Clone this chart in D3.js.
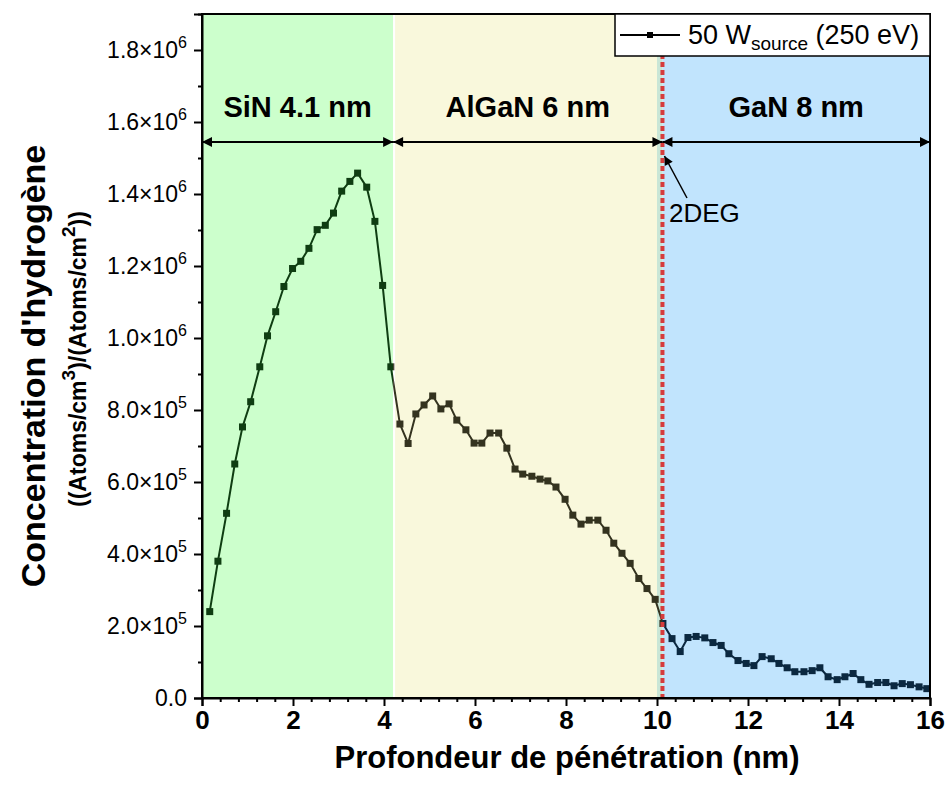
<!DOCTYPE html>
<html><head><meta charset="utf-8">
<script src="https://cdn.jsdelivr.net/npm/d3@7"></script>
<style>
html,body{margin:0;padding:0;background:#fff;}
svg{display:block;font-family:"Liberation Sans",Arial,sans-serif;}
</style></head>
<body>
<svg id="chart" width="949" height="796"></svg>
<script>
// ---- data ----
const depth = [0.17,0.35,0.54,0.72,0.89,1.07,1.27,1.44,1.62,1.80,1.99,2.17,2.35,2.53,2.71,2.89,3.07,3.25,3.42,3.62,3.80,3.97,4.15,4.35,4.53,
4.70,4.88,5.07,5.25,5.43,5.60,5.80,5.98,6.15,6.33,6.52,6.70,6.88,7.05,7.25,7.43,7.60,7.78,7.98,8.15,8.33,8.51,8.70,8.88,9.05,9.23,9.41,9.60,9.78,9.96,10.13,10.33,
10.51,10.68,10.86,11.05,11.23,11.41,11.58,11.78,11.96,12.13,12.31,12.51,12.68,12.86,13.03,13.23,13.41,13.58,13.76,13.96,14.13,14.31,14.48,14.66,14.85,15.03,15.21,15.39,15.57,15.76,15.93];
const concentration = [2.40e5,3.80e5,5.13e5,6.50e5,7.53e5,8.23e5,9.20e5,1.006e6,1.073e6,1.143e6,1.193e6,1.213e6,1.249e6,1.301e6,1.313e6,1.347e6,1.408e6,1.435e6,1.458e6,1.419e6,1.324e6,1.146e6,9.20e5,7.61e5,7.07e5,
7.89e5,8.14e5,8.39e5,8.03e5,8.17e5,7.72e5,7.45e5,7.08e5,7.08e5,7.36e5,7.36e5,6.94e5,6.36e5,6.22e5,6.16e5,6.08e5,6.03e5,5.86e5,5.52e5,5.08e5,4.83e5,4.94e5,4.94e5,4.66e5,4.30e5,4.02e5,3.74e5,3.32e5,3.04e5,2.74e5,2.07e5,1.65e5,
1.29e5,1.68e5,1.71e5,1.67e5,1.54e5,1.46e5,1.23e5,1.04e5,9.6e4,9.0e4,1.15e5,1.09e5,9.6e4,8.4e4,7.3e4,7.3e4,7.6e4,8.4e4,5.9e4,5.1e4,5.9e4,6.8e4,5.1e4,3.8e4,4.3e4,4.3e4,3.4e4,4.0e4,3.7e4,3.1e4,2.6e4];
const seriesName = "50 W";
const seriesSub = "source";
const seriesSuffix = " (250 eV)";
const layerNames = ["SiN 4.1 nm","AlGaN 6 nm","GaN 8 nm"];
const layerStart = [0, 4.2, 10.12];
const layerEnd = [4.2, 10.12, 16];
const layerFill = ["#ccffcc","#f9f8dc","#c1e4fd"];
const layerInk = ["#0f3d12","#34331f","#0b2840"];
const interfaceX = 10.12;
const interfaceLabel = "2DEG";
const xTicks = [0,2,4,6,8,10,12,14,16];
const yTicks = [0,2e5,4e5,6e5,8e5,1e6,1.2e6,1.4e6,1.6e6,1.8e6];
const xTitle = "Profondeur de pénétration (nm)";
const yTitle = "Concentration d'hydrogène";

// ---- layout ----
const svg = d3.select("#chart");
const L = 202, R = 930, T = 14, B = 698;
const x = d3.scaleLinear().domain([0,16]).range([L,R]);
const y = d3.scaleLinear().domain([0,1.9e6]).range([B,T]);

const defs = svg.append("defs");
layerNames.forEach((n,i)=>{
  defs.append("clipPath").attr("id","clip"+i).append("rect")
    .attr("x", x(layerStart[i])).attr("y", T).attr("width", x(layerEnd[i])-x(layerStart[i])).attr("height", B-T);
});
defs.append("marker").attr("id","ah").attr("viewBox","0 0 10 10").attr("refX",10).attr("refY",5)
  .attr("markerWidth",16).attr("markerHeight",10).attr("markerUnits","userSpaceOnUse").attr("orient","auto-start-reverse")
  .append("path").attr("d","M0,0 L10,5 L0,10 z").attr("fill","#000");
defs.append("marker").attr("id","ah2").attr("viewBox","0 0 10 10").attr("refX",10).attr("refY",5)
  .attr("markerWidth",14).attr("markerHeight",9).attr("markerUnits","userSpaceOnUse").attr("orient","auto")
  .append("path").attr("d","M0,0 L10,5 L0,10 z").attr("fill","#000");

// layer backgrounds
layerNames.forEach((n,i)=>{
  svg.append("rect").attr("x", x(layerStart[i])).attr("y", T)
    .attr("width", x(layerEnd[i]) - x(layerStart[i])).attr("height", B-T)
    .attr("fill", layerFill[i]);
});
svg.append("line").attr("x1", x(4.2)+1).attr("x2", x(4.2)+1).attr("y1",T).attr("y2",B)
  .attr("stroke","#fff").attr("stroke-width",2);
svg.append("rect").attr("x", x(10.0)).attr("y",T).attr("width", x(interfaceX)-x(10.0)).attr("height",B-T)
  .attr("fill","#c9e6d6");

// data line + markers, tinted per layer
const line = d3.line().x((d,i)=>x(depth[i])).y((d,i)=>y(concentration[i]));
layerNames.forEach((n,i)=>{
  const g = svg.append("g").attr("clip-path","url(#clip"+i+")");
  g.append("path").datum(concentration).attr("d", line).attr("fill","none")
    .attr("stroke", layerInk[i]).attr("stroke-width",2);
  g.selectAll("rect").data(concentration).enter().append("rect")
    .attr("x",(d,j)=>x(depth[j])-3.5).attr("y",d=>y(d)-3.5).attr("width",7).attr("height",7)
    .attr("fill", layerInk[i]);
});

// interface dotted red line
svg.append("line").attr("x1", x(interfaceX)).attr("x2", x(interfaceX)).attr("y1", T).attr("y2", B)
  .attr("stroke","#d63c3c").attr("stroke-width",4).attr("stroke-dasharray","5,3");

// layer labels + arrows
const arrowY = 142;
layerNames.forEach((n,i)=>{
  const x0 = x(layerStart[i]), x1 = x(layerEnd[i]);
  svg.append("text").attr("x",(x0+x1)/2).attr("y",117).attr("text-anchor","middle")
    .attr("font-size",29).attr("font-weight","bold").text(n);
  svg.append("line").attr("x1",x0).attr("x2",x1).attr("y1",arrowY).attr("y2",arrowY)
    .attr("stroke","#000").attr("stroke-width",2)
    .attr("marker-start","url(#ah)").attr("marker-end","url(#ah)");
});

// 2DEG annotation
svg.append("line").attr("x1",687).attr("y1",198).attr("x2",x(interfaceX)+2).attr("y2",156)
  .attr("stroke","#000").attr("stroke-width",1.5).attr("marker-end","url(#ah2)");
svg.append("text").attr("x",669).attr("y",222).attr("font-size",26).text(interfaceLabel);

// axes
const xAxis = d3.axisBottom(x).tickValues(xTicks).tickSize(8).tickFormat(d3.format("d"));
const xMinor = d3.axisBottom(x).tickValues(d3.range(0,16.01,0.4).filter(v=>Math.abs(v/2-Math.round(v/2))>1e-6)).tickSize(4).tickFormat("");
const gx = svg.append("g").attr("transform",`translate(0,${B})`).call(xAxis);
svg.append("g").attr("transform",`translate(0,${B})`).call(xMinor).select(".domain").remove();
gx.selectAll("text").attr("font-size",26).attr("font-weight","bold").attr("fill","#000").attr("y",10).attr("dy","0.8em")
  .attr("font-family","'Liberation Sans',Arial,sans-serif");

const yAxis = d3.axisLeft(y).tickValues(yTicks).tickSize(8).tickFormat("");
const yMinor = d3.axisLeft(y).tickValues([1e5,3e5,5e5,7e5,9e5,1.1e6,1.3e6,1.5e6,1.7e6,1.9e6]).tickSize(4).tickFormat("");
svg.append("g").attr("transform",`translate(${L},0)`).call(yAxis);
svg.append("g").attr("transform",`translate(${L},0)`).call(yMinor).select(".domain").remove();
svg.selectAll(".tick line").attr("stroke","#000").attr("stroke-width",2);
svg.selectAll(".domain").attr("stroke","#000").attr("stroke-width",2);

// y tick labels with superscripts
yTicks.forEach(v=>{
  const t = svg.append("text").attr("x", L-15).attr("y", y(v)+8).attr("text-anchor","end")
    .attr("font-size",23).attr("fill","#000");
  if (v===0) { t.text("0.0"); return; }
  const e = Math.floor(Math.log10(v)+1e-9);
  const m = v/Math.pow(10,e);
  t.append("tspan").text(m.toFixed(1)+"×10");
  t.append("tspan").attr("font-size",16).attr("dy",-10).text(e);
});

// frame
svg.append("rect").attr("x",L).attr("y",T).attr("width",R-L).attr("height",B-T)
  .attr("fill","none").attr("stroke","#000").attr("stroke-width",2);

// axis titles
svg.append("text").attr("x",567).attr("y",768).attr("text-anchor","middle")
  .attr("font-size",31).attr("font-weight","bold").text(xTitle);
svg.append("text").attr("transform","translate(45,366) rotate(-90)").attr("text-anchor","middle")
  .attr("font-size",34).attr("font-weight","bold").text(yTitle);
const sub = svg.append("text").attr("transform","translate(86,359) rotate(-90)").attr("text-anchor","middle")
  .attr("font-size",23).attr("font-weight","bold");
sub.append("tspan").text("((Atoms/cm");
sub.append("tspan").attr("font-size",19).attr("dy",-11).text("3");
sub.append("tspan").attr("dy",11).text(")/(Atoms/cm");
sub.append("tspan").attr("font-size",19).attr("dy",-11).text("2");
sub.append("tspan").attr("dy",11).text("))");

// legend
svg.append("rect").attr("x",615).attr("y",T).attr("width",R-615).attr("height",42)
  .attr("fill","#fff").attr("stroke","#000").attr("stroke-width",1.5);
svg.append("line").attr("x1",620).attr("x2",680).attr("y1",35).attr("y2",35).attr("stroke","#000").attr("stroke-width",2);
svg.append("rect").attr("x",647).attr("y",32).attr("width",6).attr("height",6).attr("fill","#000");
const lt = svg.append("text").attr("x",688).attr("y",44).attr("font-size",27);
lt.append("tspan").text(seriesName);
lt.append("tspan").attr("font-size",19).attr("dy",6).text(seriesSub);
lt.append("tspan").attr("dy",-6).text(seriesSuffix);
</script>
</body></html>
